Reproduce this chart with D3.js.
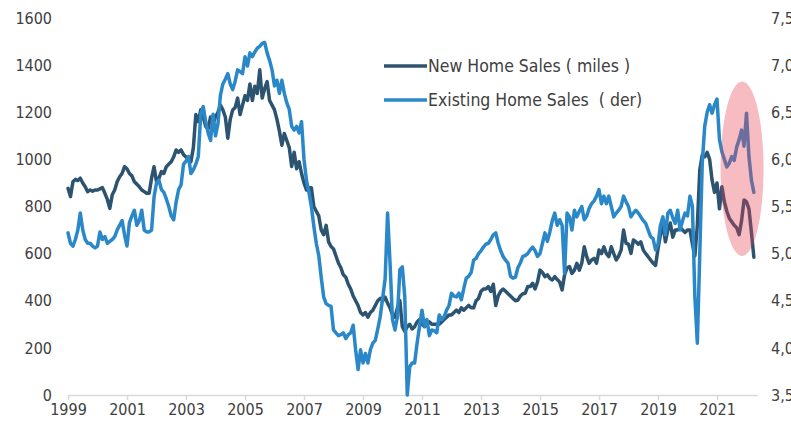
<!DOCTYPE html>
<html>
<head>
<meta charset="utf-8">
<script src="https://cdn.jsdelivr.net/npm/d3@7/dist/d3.min.js"></script>
<style>
  html, body { margin: 0; padding: 0; background: #ffffff; }
  svg { display: block; }
  text { font-family: "DejaVu Sans Condensed", "DejaVu Sans", sans-serif; fill: #404040; }
</style>
</head>
<body>
<div id="chart"></div>
<script>
// ---- Data (monthly, Jan 1999 – Apr 2022) ----
const startYear = 1999;

// New Home Sales (thousands, left axis)
const newHomeSales = [
  877, 842, 905, 915, 910, 920, 900, 884, 863, 870, 865, 870,          // 1999
  870, 875, 880, 856, 830, 792, 850, 870, 905, 926, 940, 969,          // 2000
  960, 940, 930, 905, 895, 884, 870, 863, 856, 856, 920, 969,          // 2001
  905, 920, 948, 940, 969, 980, 990, 1011, 1040, 1030, 1040, 1020,     // 2002
  1010, 1000, 990, 1050, 1190, 1160, 1210, 1180, 1140, 1130, 1180, 1150, // 2003
  1180, 1200, 1230, 1210, 1180, 1090, 1170, 1210, 1220, 1260, 1190, 1230, // 2004
  1270, 1250, 1320, 1250, 1310, 1280, 1380, 1260, 1300, 1330, 1250, 1230, // 2005
  1210, 1170, 1120, 1060, 1110, 1080, 1050, 970, 1030, 960, 990, 940,  // 2006
  900, 870, 880, 880, 800, 780, 760, 700, 680, 720, 650, 630,          // 2007
  620, 590, 560, 540, 510, 500, 470, 450, 420, 400, 380, 350,          // 2008
  340, 350, 330, 350, 360, 380, 400, 410, 400, 415, 390, 370,          // 2009
  340, 330, 370, 400, 290, 270, 290, 300, 280, 290, 310, 320,          // 2010
  300, 290, 300, 310, 300, 300, 300, 300, 310, 320, 330, 340,          // 2011
  340, 350, 360, 350, 370, 360, 370, 380, 370, 370, 400, 410,          // 2012
  440, 450, 450, 460, 440, 470, 380, 420, 440, 450, 440, 430,          // 2013
  420, 410, 400, 403, 420, 430, 432, 460, 460, 474, 450, 480,          // 2014
  530, 520, 502, 510, 495, 488, 502, 490, 480, 446, 510, 540,          // 2015
  545, 516, 530, 559, 530, 560, 629, 587, 559, 573, 580, 559,          // 2016
  615, 600, 629, 600, 587, 629, 600, 573, 590, 615, 700, 644,          // 2017
  640, 601, 658, 650, 640, 650, 615, 600, 587, 573, 560, 550,          // 2018
  620, 680, 730, 650, 700, 730, 670, 700, 700, 710, 700, 690,          // 2019
  700, 700, 640, 590, 720, 955, 1018, 1011, 1030, 1000, 912, 860,      // 2020
  900, 790, 884, 820, 780, 750, 735, 720, 710, 680, 740, 828,          // 2021
  820, 790, 690, 585                                                   // 2022
];

// Existing Home Sales (millions, right axis)
const existingHomeSales = [
  5.22, 5.11, 5.08, 5.15, 5.25, 5.43, 5.25, 5.15, 5.11, 5.11, 5.08, 5.06, // 1999
  5.08, 5.23, 5.15, 5.18, 5.11, 5.13, 5.15, 5.18, 5.25, 5.30, 5.35, 5.20, // 2000
  5.08, 5.33, 5.40, 5.46, 5.30, 5.35, 5.46, 5.25, 5.23, 5.23, 5.25, 5.60, // 2001
  5.75, 5.78, 5.68, 5.65, 5.58, 5.50, 5.40, 5.36, 5.55, 5.68, 5.73, 5.95, // 2002
  5.98, 6.03, 5.85, 5.89, 5.95, 6.03, 6.48, 6.56, 6.40, 6.28, 6.20, 6.48, // 2003
  6.25, 6.38, 6.68, 6.80, 6.85, 6.91, 6.80, 6.74, 6.83, 6.95, 6.93, 6.91, // 2004
  7.09, 6.99, 7.13, 7.09, 7.14, 7.18, 7.20, 7.23, 7.24, 7.13, 7.05, 6.95, // 2005
  6.78, 6.84, 6.70, 6.84, 6.70, 6.60, 6.53, 6.35, 6.31, 6.35, 6.28, 6.40, // 2006
  6.00, 5.78, 5.65, 5.50, 5.29, 5.11, 4.98, 4.75, 4.54, 4.47, 4.45, 4.44, // 2007
  4.19, 4.16, 4.13, 4.14, 4.16, 4.10, 4.14, 4.16, 4.24, 3.98, 3.77, 3.98, // 2008
  3.84, 3.94, 3.84, 3.98, 4.05, 4.08, 4.20, 4.33, 4.53, 4.73, 5.43, 4.90, // 2009
  4.30, 4.19, 4.33, 4.83, 4.86, 4.54, 3.50, 3.80, 3.84, 3.84, 4.05, 4.23, // 2010
  4.40, 4.23, 4.30, 4.13, 4.19, 4.18, 4.16, 4.35, 4.30, 4.33, 4.40, 4.45, // 2011
  4.58, 4.55, 4.54, 4.58, 4.51, 4.63, 4.74, 4.76, 4.80, 4.93, 4.95, 5.00, // 2012
  5.03, 5.07, 5.10, 5.11, 5.15, 5.20, 5.22, 5.11, 5.03, 4.97, 4.93, 4.90, // 2013
  4.76, 4.74, 4.75, 4.85, 4.90, 4.97, 4.98, 5.00, 5.04, 5.07, 5.03, 4.97, // 2014
  5.00, 5.11, 5.22, 5.13, 5.23, 5.35, 5.43, 5.30, 5.36, 5.30, 4.79, 5.43, // 2015
  5.39, 5.25, 5.46, 5.39, 5.45, 5.50, 5.36, 5.40, 5.48, 5.53, 5.56, 5.61, // 2016
  5.68, 5.53, 5.61, 5.53, 5.61, 5.50, 5.39, 5.43, 5.46, 5.50, 5.61, 5.55, // 2017
  5.50, 5.39, 5.43, 5.46, 5.43, 5.39, 5.35, 5.32, 5.25, 5.18, 5.16, 5.04, // 2018
  5.10, 5.30, 5.39, 5.20, 5.43, 5.46, 5.38, 5.32, 5.46, 5.25, 5.35, 5.43, // 2019
  5.40, 5.61, 5.50, 4.54, 4.05, 5.00, 5.96, 6.35, 6.50, 6.58, 6.49, 6.58, // 2020
  6.64, 6.21, 6.08, 6.00, 5.92, 5.96, 6.03, 5.99, 6.13, 6.21, 6.31, 6.14, // 2021
  6.49, 6.03, 5.78, 5.65                                                  // 2022
];

const xTickYears = [1999, 2001, 2003, 2005, 2007, 2009, 2011, 2013, 2015, 2017, 2019, 2021];
const leftTicks = [0, 200, 400, 600, 800, 1000, 1200, 1400, 1600];
const rightTicks = [3.5, 4.0, 4.5, 5.0, 5.5, 6.0, 6.5, 7.0, 7.5];
const seriesNames = ["New Home Sales ( miles )", "Existing Home Sales  ( der)"];
// highlight annotation (in data units: year, left-axis value)
const highlight = { t: 2021.85, dt: 0.73, v: 960, dv: 370 };

// ---- Layout ----
const W = 791, H = 433;
const colors = { newHome: "#2c5370", existing: "#2b88c8" };
const FONT = '"DejaVu Sans Condensed", "DejaVu Sans", sans-serif';

const svg = d3.select("#chart").append("svg")
  .attr("width", W).attr("height", H);

const x = d3.scaleLinear().domain([1999, 2022.356]).range([68, 757]);
const yL = d3.scaleLinear().domain([0, 1600]).range([395, 18]);
const yR = d3.scaleLinear().domain([3.5, 7.5]).range([395, 18]);

const tOf = i => startYear + i / 12;

// X axis
const xAxis = d3.axisBottom(x)
  .tickValues(xTickYears)
  .tickFormat(d3.format("d"))
  .tickSizeInner(5).tickSizeOuter(0).tickPadding(4);
const gx = svg.append("g").attr("transform", "translate(0,395)").call(xAxis);
gx.select(".domain").attr("stroke", "#d9d9d9").attr("stroke-width", 1.5);
gx.selectAll(".tick line").attr("stroke", "#d9d9d9").attr("stroke-width", 1.5);
gx.selectAll(".tick text")
  .attr("font-size", 16).attr("fill", "#404040").style("font-family", FONT);

// Left axis
const yAxisL = d3.axisLeft(yL).tickValues(leftTicks).tickSize(0).tickPadding(0).tickFormat(d3.format("d"));
const gyl = svg.append("g").attr("transform", "translate(52,0)").call(yAxisL);
gyl.select(".domain").remove();
gyl.selectAll(".tick text")
  .attr("font-size", 16).attr("fill", "#404040").style("font-family", FONT);

// Right axis (labels run past the window edge, as in the reference)
const commaFmt = d => d.toFixed(1).replace(".", ",");
const yAxisR = d3.axisRight(yR).tickValues(rightTicks).tickSize(0).tickPadding(0).tickFormat(commaFmt);
const gyr = svg.append("g").attr("transform", "translate(771,0)").call(yAxisR);
gyr.select(".domain").remove();
gyr.selectAll(".tick text")
  .attr("font-size", 16).attr("fill", "#404040").style("font-family", FONT);

// Lines
const lineNew = d3.line().x((d, i) => x(tOf(i))).y(d => yL(d));
const lineExist = d3.line().x((d, i) => x(tOf(i))).y(d => yR(d));

svg.append("path").datum(newHomeSales)
  .attr("d", lineNew).attr("fill", "none")
  .attr("stroke", colors.newHome).attr("stroke-width", 3.5)
  .attr("stroke-linejoin", "round").attr("stroke-linecap", "round");

svg.append("path").datum(existingHomeSales)
  .attr("d", lineExist).attr("fill", "none")
  .attr("stroke", colors.existing).attr("stroke-width", 3.5)
  .attr("stroke-linejoin", "round").attr("stroke-linecap", "round");

// Highlight ellipse
svg.append("ellipse")
  .attr("cx", x(highlight.t))
  .attr("cy", yL(highlight.v))
  .attr("rx", x(highlight.t + highlight.dt) - x(highlight.t))
  .attr("ry", yL(highlight.v - highlight.dv) - yL(highlight.v))
  .attr("fill", "rgb(232,60,80)").attr("fill-opacity", 0.35);

// Legend
const legend = svg.append("g");
const legendItems = [
  { name: seriesNames[0], color: colors.newHome, y: 66 },
  { name: seriesNames[1], color: colors.existing, y: 100 }
];
legendItems.forEach(it => {
  legend.append("line").attr("x1", 384).attr("x2", 427)
    .attr("y1", it.y).attr("y2", it.y)
    .attr("stroke", it.color).attr("stroke-width", 3.5);
  legend.append("text").attr("x", 428).attr("y", it.y)
    .attr("dy", "0.35em").attr("font-size", 17.5)
    .style("white-space", "pre")
    .text(it.name);
});
</script>
</body>
</html>
